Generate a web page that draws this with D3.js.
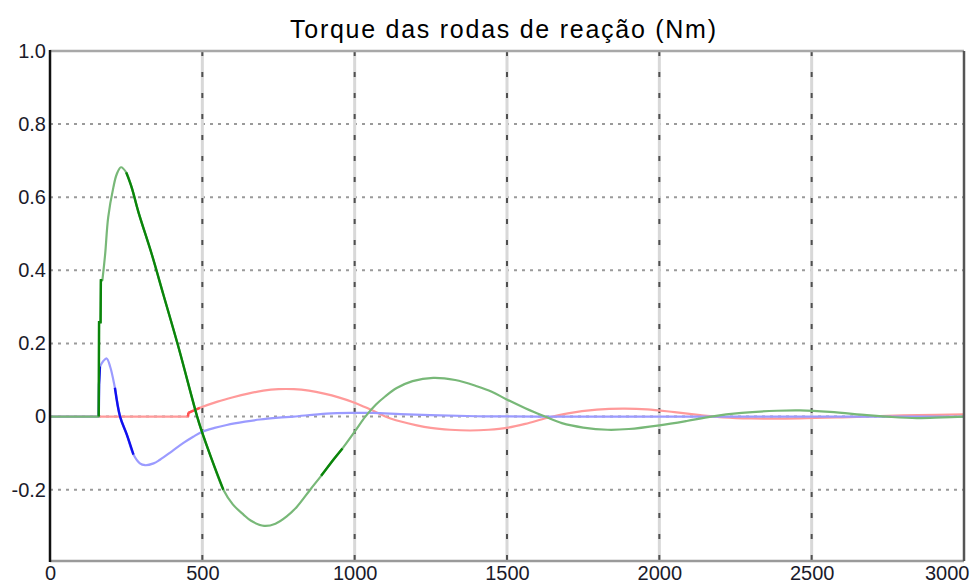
<!DOCTYPE html>
<html>
<head>
<meta charset="utf-8">
<script src="https://cdn.jsdelivr.net/npm/d3@7"></script>
<style>
  html, body { margin: 0; padding: 0; background: #fff; }
  svg { display: block; font-family: "Liberation Sans", Arial, sans-serif; }
</style>
</head>
<body>
<svg id="chart" width="976" height="588"></svg>
<script>
// Reaction wheel torques (Nm) over time (s)
const title = "Torque das rodas de reação (Nm)";

const xTicks = [0, 500, 1000, 1500, 2000, 2500, 3000];
const yTicks = [-0.2, 0, 0.2, 0.4, 0.6, 0.8, 1.0];

// Wheel X (red)
const redT = [0, 453, 454, 492, 550, 601, 650, 700, 750, 800, 850, 900, 950, 1000, 1050, 1094, 1120, 1204, 1250, 1313, 1379, 1440, 1499, 1560, 1630, 1700, 1795, 1880, 1960, 2050, 2134, 2210, 2300, 2460, 2600, 2700, 2850, 3000];
const redV = [0, 0, 0.01, 0.024, 0.041, 0.053, 0.063, 0.071, 0.075, 0.075, 0.071, 0.063, 0.052, 0.038, 0.02, 0.003, -0.006, -0.024, -0.031, -0.036, -0.038, -0.036, -0.031, -0.02, -0.004, 0.009, 0.019, 0.022, 0.02, 0.012, 0.004, -0.002, -0.005, -0.005, -0.002, 0.001, 0.004, 0.006];

// Wheel Y (blue)
const blueT = [0, 160, 161, 164, 175, 186, 198, 213, 230, 252, 274, 295, 312, 340, 361, 400, 438, 470, 498, 540, 580, 640, 689, 750, 799, 908, 996, 1060, 1150, 1248, 1400, 1600, 2000, 3000];
const blueV = [0, 0, 0.088, 0.137, 0.152, 0.159, 0.135, 0.079, 0, -0.049, -0.104, -0.128, -0.133, -0.128, -0.118, -0.095, -0.072, -0.055, -0.042, -0.031, -0.023, -0.014, -0.008, -0.003, 0, 0.008, 0.01, 0.01, 0.007, 0.004, 0.001, 0, 0, 0];

// Wheel Z (green)
const greenT = [0, 160, 161, 166, 167, 172, 181, 191, 208, 219, 233, 250, 268, 290, 334, 372, 420, 483, 498, 530, 569, 600, 635, 660, 703, 740, 777, 810, 854, 890, 930, 960, 1001, 1035, 1070, 1100, 1138, 1190, 1258, 1330, 1401, 1450, 1499, 1560, 1625, 1680, 1750, 1830, 1900, 2000, 2090, 2170, 2270, 2386, 2462, 2560, 2681, 2760, 2845, 2930, 3000];
const greenV = [0, 0, 0.258, 0.258, 0.373, 0.373, 0.444, 0.545, 0.627, 0.663, 0.682, 0.668, 0.627, 0.56, 0.444, 0.334, 0.195, 0, -0.04, -0.115, -0.2, -0.24, -0.268, -0.285, -0.299, -0.293, -0.273, -0.247, -0.2, -0.162, -0.118, -0.087, -0.04, 0, 0.033, 0.055, 0.078, 0.097, 0.106, 0.1, 0.083, 0.068, 0.047, 0.023, 0, -0.018, -0.03, -0.036, -0.034, -0.024, -0.012, 0, 0.01, 0.016, 0.017, 0.013, 0.004, -0.001, -0.004, -0.002, 0];

const W = 976, H = 588;
const margin = { top: 51, right: 12, bottom: 27, left: 50 };
const yMin = -0.395, yMax = 1.0;

const svg = d3.select("#chart");
const x = d3.scaleLinear().domain([0, 3000]).range([margin.left, W - margin.right]);
const y = d3.scaleLinear().domain([yMin, yMax]).range([H - margin.bottom, margin.top]);

// Grid
const grid = svg.append("g");
grid.selectAll("line.hg")
  .data(yTicks.filter(v => v < yMax))
  .join("line")
  .attr("x1", x(0)).attr("x2", x(3000))
  .attr("y1", d => y(d)).attr("y2", d => y(d))
  .attr("stroke", "#9a9a9a").attr("stroke-width", 2)
  .attr("stroke-dasharray", "3,5");

const vg = xTicks.filter(v => v > 0 && v < 3000);
grid.selectAll("line.vg0")
  .data(vg).join("line")
  .attr("x1", d => x(d)).attr("x2", d => x(d))
  .attr("y1", y(yMax)).attr("y2", y(yMin))
  .attr("stroke", "#d8d8d8").attr("stroke-width", 3);
grid.selectAll("line.vg1")
  .data(vg).join("line")
  .attr("x1", d => x(d)).attr("x2", d => x(d))
  .attr("y1", y(yMax)).attr("y2", y(yMin))
  .attr("stroke", "#505050").attr("stroke-width", 2)
  .attr("stroke-dasharray", "5,16");

// Series: the switch-on steps are straight segments, the rest is a smooth curve
const linear = d3.line().x(d => x(d.t)).y(d => y(d.v));
const smooth = d3.line().x(d => x(d.t)).y(d => y(d.v)).curve(d3.curveCatmullRom.alpha(0.5));
const zip = (T, V) => T.map((t, i) => ({ t, v: V[i] }));

function pathFor(data, tSplit) {
  const head = data.filter(d => d.t <= tSplit);
  const tail = data.filter(d => d.t >= tSplit);
  return linear(head) + smooth(tail).replace(/^M/, "L");
}

const series = [
  { data: zip(redT, redV), split: 454, light: "#ff9a9a", dark: "#ff5050", darkRanges: [[454, 500]] },
  { data: zip(blueT, blueV), split: 164, light: "#9b9bff", dark: "#1010ee", darkRanges: [[213, 292]] },
  { data: zip(greenT, greenV), split: 172, light: "#78b878", dark: "#0a850a", darkRanges: [[240, 575], [880, 975]] }
];

const plot = svg.append("g");
series.forEach(s => {
  plot.append("path")
    .attr("d", pathFor(s.data, s.split))
    .attr("fill", "none")
    .attr("stroke", s.light)
    .attr("stroke-width", 2.2)
    .attr("stroke-linejoin", "round");
  // switch-on steps in the saturated colour
  const onset = s.data.filter(d => d.t >= s.split - 12 && d.t <= s.split);
  plot.append("path")
    .attr("d", linear(onset))
    .attr("fill", "none").attr("stroke", s.dark).attr("stroke-width", 2.4);
  s.darkRanges.forEach(([a, b]) => {
    const part = s.data.filter(d => d.t >= a && d.t <= b);
    if (part.length > 1) {
      plot.append("path")
        .attr("d", smooth(part))
        .attr("fill", "none")
        .attr("stroke", s.dark)
        .attr("stroke-width", 2.4)
        .attr("stroke-linejoin", "round");
    }
  });
});

// Frame
const frame = svg.append("g");
frame.append("line").attr("x1", x(0)).attr("x2", x(3000)).attr("y1", y(yMax)).attr("y2", y(yMax))
  .attr("stroke", "#a8a8a8").attr("stroke-width", 2.5);
frame.append("line").attr("x1", x(0)).attr("x2", x(3000)).attr("y1", y(yMin)).attr("y2", y(yMin))
  .attr("stroke", "#9a9a9a").attr("stroke-width", 2.5);
frame.append("line").attr("x1", x(3000)).attr("x2", x(3000)).attr("y1", y(yMax)).attr("y2", y(yMin))
  .attr("stroke", "#555").attr("stroke-width", 2.5);
frame.append("line").attr("x1", x(0)).attr("x2", x(0)).attr("y1", y(yMax) - 1).attr("y2", y(yMin) + 1)
  .attr("stroke", "#111").attr("stroke-width", 2.5);

// Axis labels
const yAxis = d3.axisLeft(y).tickValues(yTicks)
  .tickFormat(d => d === 0 ? "0" : d3.format(".1f")(d).replace("−", "-"))
  .tickSize(0).tickPadding(4);
const gy = svg.append("g").attr("transform", `translate(${margin.left},0)`).call(yAxis);
gy.select(".domain").remove();
gy.selectAll("text").attr("font-size", 20).attr("fill", "#1a1a2a")
  .attr("font-family", "'Liberation Sans', Arial, sans-serif");

const xAxis = d3.axisBottom(x).tickValues(xTicks).tickFormat(d3.format("d"))
  .tickSize(0).tickPadding(5);
const gx = svg.append("g").attr("transform", `translate(0,${H - margin.bottom})`).call(xAxis);
gx.select(".domain").remove();
gx.selectAll("text").attr("font-size", 20).attr("fill", "#1a1a2a")
  .attr("font-family", "'Liberation Sans', Arial, sans-serif");
gx.selectAll(".tick").filter(d => d === 3000).select("text")
  .attr("text-anchor", "end").attr("dx", 5);

// Title
svg.append("text")
  .attr("x", 503)
  .attr("y", 38)
  .attr("text-anchor", "middle")
  .attr("font-size", 25)
  .attr("textLength", 426)
  .attr("lengthAdjust", "spacing")
  .attr("fill", "#000")
  .text(title);
</script>
</body>
</html>
